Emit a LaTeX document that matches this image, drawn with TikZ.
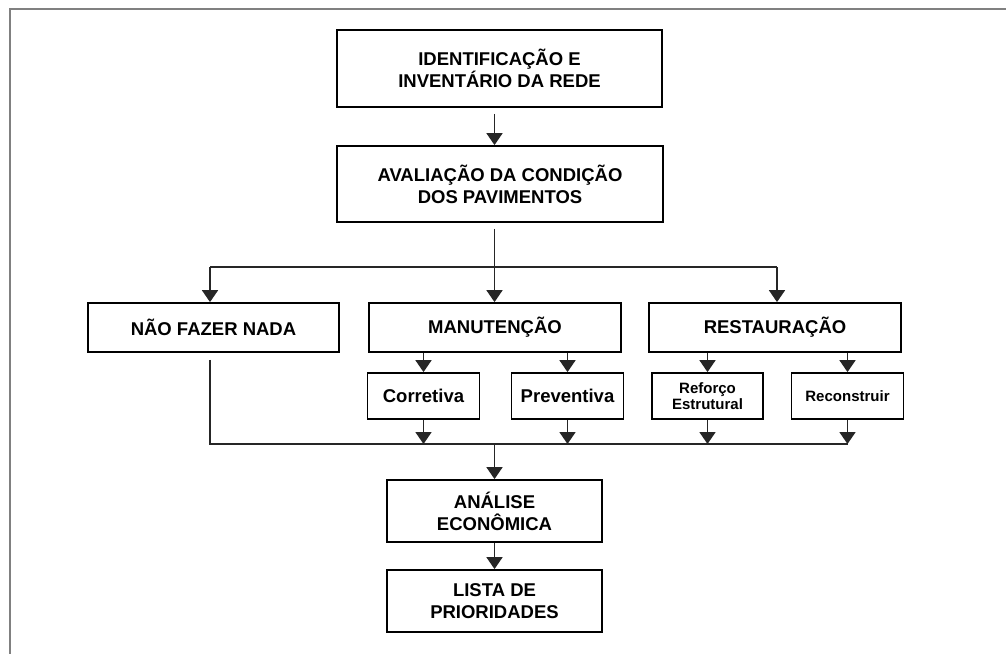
\documentclass[tikz,border=0pt]{standalone}
\usepackage{fontspec}
\setmainfont{Liberation Sans}
\usetikzlibrary{arrows.meta,calc}
\begin{document}
\begin{tikzpicture}[x=1pt,y=-1pt,
  box/.style={draw=black,line width=1.8pt,fill=white,inner sep=0pt,align=center,
    font=\fontsize{18.5}{22}\selectfont\bfseries},
  smallbox/.style={box,font=\fontsize{15}{16}\selectfont\bfseries},
  ln/.style={draw=black!85,line width=1.8pt},
  arr/.style={ln,-{Triangle[width=16pt,length=12pt]}}]
\useasboundingbox (0,0) rectangle (1006,653);
\fill[white] (0,0) rectangle (1006,653);
% frame
\draw[gray,line width=2pt] (10,660) -- (10,9) -- (1010,9);
% nodes
\node[box,minimum width=325,minimum height=77] (b1) at (499.5,68.5) {IDENTIFICAÇÃO E\\INVENTÁRIO DA REDE};
\node[box,minimum width=326,minimum height=76] (b2) at (500,184) {AVALIAÇÃO DA CONDIÇÃO\\DOS PAVIMENTOS};
\node[box,minimum width=251,minimum height=49] (nfn) at (213.5,327.5) {NÃO FAZER NADA};
\node[box,minimum width=252,minimum height=49] (man) at (495,327.5) {MANUTENÇÃO};
\node[box,minimum width=252,minimum height=49] (res) at (775,327.5) {RESTAURAÇÃO};
\node[box,minimum width=112,minimum height=46] (cor) at (423.5,396) {Corretiva};
\node[box,minimum width=112,minimum height=46] (pre) at (567.5,396) {Preventiva};
\node[smallbox,minimum width=111,minimum height=46] (ref) at (707.5,396) {Reforço\\Estrutural};
\node[smallbox,minimum width=112,minimum height=46] (rec) at (847.5,396) {Reconstruir};
\node[box,minimum width=215,minimum height=62] (ana) at (494.5,511) {ANÁLISE\\ECONÔMICA};
\node[box,minimum width=215,minimum height=62] (lis) at (494.5,601) {LISTA DE\\PRIORIDADES};
% junctions
\coordinate (jc) at (494.5,267);
\coordinate (jl) at (210,267);
\coordinate (jr) at (777,267);
\coordinate (bl) at (210,444);
\coordinate (bc) at (494.5,444);
\coordinate (br) at (848,444);
% connectors
\draw[arr,shorten <=6pt] (b1.south -| jc) -- (b2.north -| jc);
\draw[ln,shorten <=6pt] (b2.south -| jc) -- (jc);
\draw[ln] (jl) -- (jr);
\draw[arr] (jl) -- (nfn.north -| jl);
\draw[arr] (jc) -- (man.north -| jc);
\draw[arr] (jr) -- (res.north -| jr);
\draw[arr] (man.south -| cor.north) -- (cor.north);
\draw[arr] (man.south -| pre.north) -- (pre.north);
\draw[arr] (res.south -| ref.north) -- (ref.north);
\draw[arr] (res.south -| rec.north) -- (rec.north);
\draw[ln,shorten <=7pt] (nfn.south -| bl) -- (bl) -- (br);
\draw[arr] (cor.south) -- (cor.south |- bl);
\draw[arr] (pre.south) -- (pre.south |- bl);
\draw[arr] (ref.south) -- (ref.south |- bl);
\draw[arr] (rec.south) -- (rec.south |- bl);
\draw[arr] (bc) -- (ana.north -| bc);
\draw[arr] (ana.south -| bc) -- (lis.north -| bc);
\end{tikzpicture}
\end{document}
